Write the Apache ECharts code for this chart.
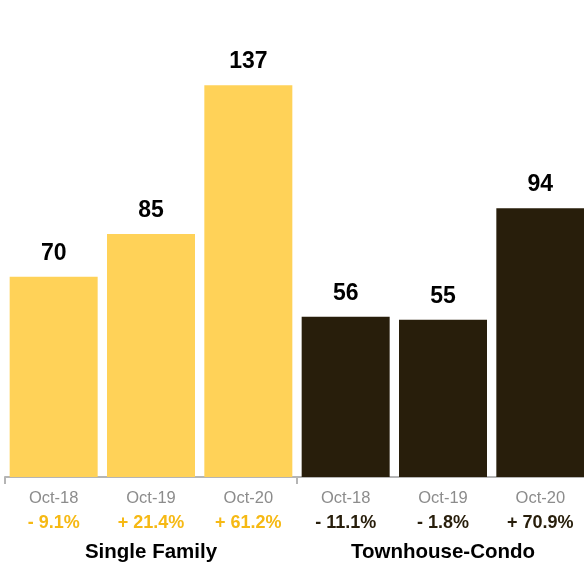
<!DOCTYPE html>
<html>
<head>
<meta charset="utf-8">
<style>
  html, body { margin: 0; padding: 0; background: #fff; overflow: hidden; }
  #chart { width: 589px; height: 566px; }
</style>
<script src="https://cdn.jsdelivr.net/npm/echarts@6/dist/echarts.min.js"></script>
</head>
<body>
<div id="chart"></div>
<script>
// data
const months = ['Oct-18', 'Oct-19', 'Oct-20', 'Oct-18', 'Oct-19', 'Oct-20']
const values = [70, 85, 137, 56, 55, 94]
const changes = ['- 9.1%', '+ 21.4%', '+ 61.2%', '- 11.1%', '- 1.8%', '+ 70.9%']
const groups = ['Single Family', 'Townhouse-Condo']

const yellow = '#FFD258'
const dark = '#281E0B'

// the plot runs 5px past the right edge of the page, so the div is a bit wider
const myChart = echarts.init(document.getElementById('chart'))
myChart.setOption({
  animation: false,
  textStyle: { fontFamily: 'Liberation Sans, Arial, sans-serif' },
  grid: { left: 5, right: 0, top: 48, bottom: 89, containLabel: false },
  xAxis: [
    {
      type: 'category',
      data: months.map((m, i) => String(i)),
      offset: 3,
      axisLine: { show: true, lineStyle: { color: '#b5b5b5', width: 2 } },
      axisTick: {
        show: true,
        length: 7,
        lineStyle: { color: '#b5b5b5', width: 2 },
        interval: (index) => index === 0 || index === 3
      },
      axisLabel: {
        interval: 0,
        margin: 7,
        formatter: (v) => {
          const i = Number(v)
          const key = i < 3 ? 'p1' : 'p2'
          return '{m|' + months[i] + '}\n{' + key + '|' + changes[i] + '}'
        },
        rich: {
          m: { fontSize: 16.5, lineHeight: 22, color: '#8c8c8c' },
          p1: { fontSize: 18, lineHeight: 28, fontWeight: 'bold', color: '#F6B914' },
          p2: { fontSize: 18, lineHeight: 28, fontWeight: 'bold', color: dark }
        }
      }
    },
    {
      type: 'category',
      data: groups,
      position: 'bottom',
      offset: 55,
      axisLine: { show: false },
      axisTick: { show: false },
      axisLabel: {
        interval: 0,
        margin: 8,
        fontSize: 20.5,
        lineHeight: 24,
        fontWeight: 'bold',
        color: '#000'
      }
    }
  ],
  yAxis: {
    type: 'value',
    min: 0,
    max: 150,
    show: false
  },
  series: [
    {
      type: 'bar',
      xAxisIndex: 0,
      barWidth: 88,
      data: values.map((v, i) => ({
        value: v,
        itemStyle: { color: i < 3 ? yellow : dark }
      })),
      label: {
        show: true,
        position: 'top',
        distance: 12,
        fontSize: 23,
        fontWeight: 'bold',
        color: '#000'
      }
    }
  ]
})
</script>
</body>
</html>
